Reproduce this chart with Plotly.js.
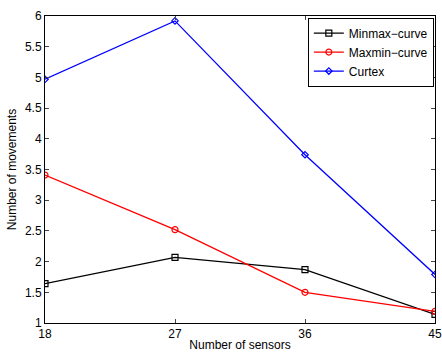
<!DOCTYPE html>
<html><head><meta charset="utf-8">
<script src="https://cdn.plot.ly/plotly-3.0.1.min.js"></script>
<style>body{margin:0;background:#fff}#c{width:442px;height:352px}</style>
</head><body><div id="c"></div>
<script>
var sensors = [18, 27, 36, 45];
var minmax = [1.64, 2.07, 1.87, 1.14];
var maxmin = [3.41, 2.52, 1.50, 1.19];
var curtex = [4.97, 5.92, 3.74, 1.79];
var yTicks = [1, 1.5, 2, 2.5, 3, 3.5, 4, 4.5, 5, 5.5, 6];
var yLabels = ['1','1.5','2','2.5','3','3.5','4','4.5','5','5.5','6'];

var traces = [
  {x: sensors, y: minmax, name: 'Minmax\u2212curve', mode: 'lines+markers', line: {color: '#000', width: 1.3}, marker: {symbol: 'square-open', size: 6, color: '#000', line: {width: 1.2}}},
  {x: sensors, y: maxmin, name: 'Maxmin\u2212curve', mode: 'lines+markers', line: {color: '#ff0000', width: 1.3}, marker: {symbol: 'circle-open', size: 6, color: '#ff0000', line: {width: 1.2}}},
  {x: sensors, y: curtex, name: 'Curtex', mode: 'lines+markers', line: {color: '#0000ff', width: 1.3}, marker: {symbol: 'diamond-open', size: 5, color: '#0000ff', line: {width: 1.2}}}
];
var layout = {
  width: 442, height: 352,
  margin: {l: 45, r: 7, t: 16, b: 29},
  paper_bgcolor: '#fff', plot_bgcolor: '#fff',
  font: {family: 'Liberation Sans, Arial, sans-serif', size: 12, color: '#000'},
  showlegend: true,
  legend: {x: 0.997, y: 0.995, xanchor: 'right', yanchor: 'top', xref: 'paper', yref: 'paper',
    bgcolor: '#fff', bordercolor: '#000', borderwidth: 1, font: {size: 12},
    tracegroupgap: 0},
  xaxis: {range: [18, 45], tickvals: sensors, ticktext: sensors.map(String), ticks: 'inside', ticklen: 4,
    mirror: 'ticks', showline: true, linecolor: '#000', linewidth: 1, showgrid: false, zeroline: false,
    tickfont: {size: 12},
    title: {text: 'Number of sensors', font: {size: 12}, standoff: 1}},
  yaxis: {range: [1, 6], tickvals: yTicks, ticktext: yLabels, ticks: 'inside', ticklen: 4,
    mirror: 'ticks', showline: true, linecolor: '#000', linewidth: 1, showgrid: false, zeroline: false,
    tickfont: {size: 12},
    title: {text: 'Number of movements', font: {size: 12}, standoff: 5}}
};
Plotly.newPlot('c', traces, layout, {displayModeBar: false});
</script></body></html>
